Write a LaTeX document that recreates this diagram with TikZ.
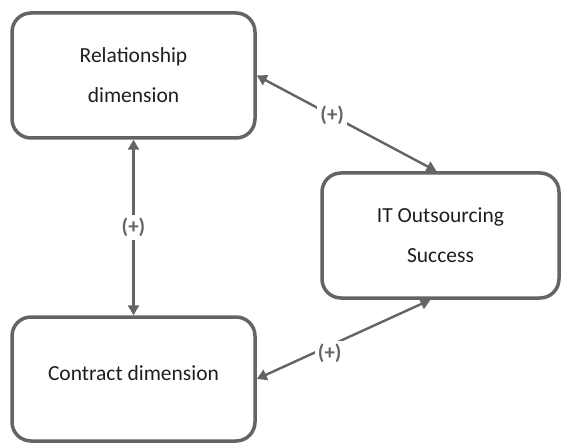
\documentclass[tikz,border=0pt]{standalone}
\usepackage{fontspec}
\setmainfont{Carlito}
\usepackage{tikz}
\usetikzlibrary{arrows.meta, positioning}

\definecolor{linegray}{RGB}{100,100,100}
\definecolor{textdark}{RGB}{30,30,30}

\begin{document}
\begin{tikzpicture}[x=1pt, y=-1pt,
    every node/.style={font=\fontsize{21.5}{40}\selectfont, text=textdark},
    dimbox/.style={draw=linegray, line width=3.5pt, rounded corners=19pt,
        minimum width=243pt, minimum height=125pt, align=center, inner sep=0pt},
    link/.style={draw=linegray, line width=2.4pt,
        {Triangle[length=10pt, width=11pt]}-{Triangle[length=10pt, width=11pt]}},
    sign/.style={font=\fontsize{21}{22}\selectfont\bfseries, text=linegray,
        fill=white, inner sep=3pt}
]
\useasboundingbox (0,0) rectangle (561,443);

% The three boxes
\node[dimbox] (rel) at (133.5,75.5) {Relationship\\dimension};
\node[dimbox, minimum height=124pt] (con) at (133.5,379) {};
\node[dimbox, minimum width=237pt] (succ) at (440.5,235.5) {IT Outsourcing\\Success};
\node (contxt) at ([yshift=6pt]con.center) {Contract dimension};

% Links between them
\draw[link] (rel.south) -- (con.north) node[sign, midway] {(+)};
\draw[link] (rel.east) -- ([xshift=-4pt]succ.north) node[sign, pos=0.42] {(+)};
\draw[link] (con.east) -- ([xshift=-10pt]succ.south) node[sign, pos=0.42, yshift=-8pt] {(+)};

\end{tikzpicture}
\end{document}
